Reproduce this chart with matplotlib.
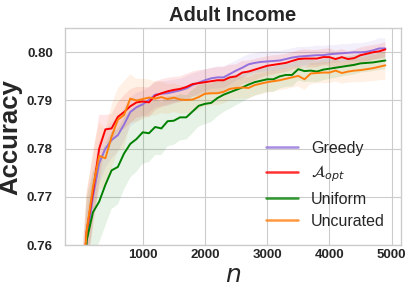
import matplotlib
matplotlib.use("Agg")
import matplotlib.pyplot as plt
import numpy as np

# training set sizes
n = list(range(0, 5000, 100))

acc_greedy = [
    0.742, 0.761, 0.7700, 0.7770, 0.7800, 0.7818, 0.7828, 0.7850, 0.7876, 0.7886,
    0.7892, 0.7901, 0.7912, 0.7914, 0.7915, 0.7918, 0.7921, 0.7925, 0.7932, 0.7937,
    0.7942, 0.7946, 0.7948, 0.7948, 0.7955, 0.7962, 0.7968, 0.7975, 0.7978, 0.7980,
    0.7981, 0.7982, 0.7983, 0.7986, 0.7989, 0.7991, 0.7992, 0.7993, 0.7994, 0.7994,
    0.7996, 0.7997, 0.7998, 0.7999, 0.8000, 0.8000, 0.8001, 0.8004, 0.8008, 0.8008,
]
acc_aopt = [
    0.745, 0.763, 0.7710, 0.7800, 0.7840, 0.7842, 0.7866, 0.7876, 0.7888, 0.7896,
    0.7898, 0.7896, 0.7910, 0.7915, 0.7919, 0.7922, 0.7924, 0.7928, 0.7934, 0.7936,
    0.7938, 0.7940, 0.7942, 0.7942, 0.7948, 0.7950, 0.7958, 0.7960, 0.7964, 0.7968,
    0.7972, 0.7974, 0.7976, 0.7978, 0.7982, 0.7986, 0.7987, 0.7987, 0.7987, 0.7990,
    0.7990, 0.7986, 0.7990, 0.7986, 0.7988, 0.7994, 0.7997, 0.8000, 0.8002, 0.8006,
]
acc_uniform = [
    0.740, 0.761, 0.7668, 0.7690, 0.7725, 0.7755, 0.7762, 0.7790, 0.7810, 0.7820,
    0.7834, 0.7832, 0.7845, 0.7842, 0.7857, 0.7858, 0.7865, 0.7865, 0.7877, 0.7889,
    0.7893, 0.7895, 0.7905, 0.7912, 0.7917, 0.7922, 0.7927, 0.7933, 0.7938, 0.7941,
    0.7944, 0.7944, 0.7950, 0.7953, 0.7953, 0.7965, 0.7961, 0.7962, 0.7960, 0.7964,
    0.7966, 0.7968, 0.7970, 0.7972, 0.7974, 0.7977, 0.7978, 0.7979, 0.7981, 0.7983,
]
acc_uncurated = [
    0.745, 0.763, 0.7720, 0.7785, 0.7780, 0.7825, 0.7860, 0.7870, 0.7904, 0.7900,
    0.7903, 0.7906, 0.7904, 0.7907, 0.7903, 0.7906, 0.7902, 0.7901, 0.7902, 0.7907,
    0.7914, 0.7915, 0.7915, 0.7918, 0.7924, 0.7926, 0.7927, 0.7926, 0.7932, 0.7935,
    0.7938, 0.7940, 0.7942, 0.7945, 0.7948, 0.7951, 0.7944, 0.7956, 0.7957, 0.7958,
    0.7958, 0.7962, 0.7957, 0.7960, 0.7962, 0.7963, 0.7965, 0.7967, 0.7970, 0.7973,
]

# half widths of the shaded bands
std_greedy = [
    0.0060, 0.0060, 0.0050, 0.0045, 0.0040, 0.0038, 0.0035, 0.0033, 0.0030, 0.0030,
    0.0028, 0.0027, 0.0026, 0.0025, 0.0026, 0.0025, 0.0024, 0.0025, 0.0024, 0.0023,
    0.0023, 0.0022, 0.0023, 0.0022, 0.0022, 0.0021, 0.0022, 0.0021, 0.0020, 0.0021,
    0.0020, 0.0021, 0.0020, 0.0020, 0.0019, 0.0020, 0.0019, 0.0019, 0.0020, 0.0019,
    0.0019, 0.0018, 0.0019, 0.0018, 0.0019, 0.0019, 0.0020, 0.0020, 0.0021, 0.0021,
]
std_aopt = [
    0.0080, 0.0080, 0.0075, 0.0070, 0.0030, 0.0030, 0.0030, 0.0035, 0.0035, 0.0032,
    0.0030, 0.0031, 0.0030, 0.0029, 0.0028, 0.0027, 0.0026, 0.0027, 0.0026, 0.0027,
    0.0026, 0.0027, 0.0027, 0.0028, 0.0026, 0.0025, 0.0024, 0.0023, 0.0022, 0.0021,
    0.0020, 0.0020, 0.0019, 0.0019, 0.0018, 0.0018, 0.0019, 0.0018, 0.0018, 0.0017,
    0.0018, 0.0017, 0.0017, 0.0016, 0.0017, 0.0016, 0.0016, 0.0015, 0.0015, 0.0015,
]
std_uniform = [
    0.0090, 0.0090, 0.0085, 0.0085, 0.0085, 0.0080, 0.0078, 0.0075, 0.0070, 0.0068,
    0.0065, 0.0060, 0.0058, 0.0055, 0.0052, 0.0050, 0.0048, 0.0046, 0.0045, 0.0043,
    0.0042, 0.0040, 0.0038, 0.0036, 0.0034, 0.0032, 0.0030, 0.0029, 0.0028, 0.0027,
    0.0026, 0.0026, 0.0025, 0.0025, 0.0024, 0.0024, 0.0023, 0.0023, 0.0022, 0.0022,
    0.0021, 0.0021, 0.0020, 0.0020, 0.0020, 0.0019, 0.0019, 0.0018, 0.0018, 0.0018,
]
std_uncurated = [
    0.0080, 0.0080, 0.0075, 0.0070, 0.0060, 0.0065, 0.0065, 0.0070, 0.0050, 0.0045,
    0.0042, 0.0038, 0.0035, 0.0033, 0.0031, 0.0030, 0.0029, 0.0028, 0.0027, 0.0026,
    0.0025, 0.0025, 0.0024, 0.0024, 0.0023, 0.0023, 0.0023, 0.0022, 0.0022, 0.0022,
    0.0022, 0.0022, 0.0021, 0.0022, 0.0021, 0.0022, 0.0022, 0.0022, 0.0021, 0.0022,
    0.0022, 0.0023, 0.0022, 0.0023, 0.0024, 0.0025, 0.0026, 0.0027, 0.0028, 0.0030,
]

series = [
    ("Greedy", acc_greedy, std_greedy, "mediumpurple"),
    (r"$\mathcal{A}_{opt}$", acc_aopt, std_aopt, "red"),
    ("Uniform", acc_uniform, std_uniform, "green"),
    ("Uncurated", acc_uncurated, std_uncurated, "tab:orange"),
]

plt.style.use("seaborn-v0_8-whitegrid")
plt.rcParams["font.family"] = ["Liberation Sans", "DejaVu Sans"]

fig = plt.figure(figsize=(4.13, 2.97), dpi=100)
ax = fig.add_axes([0.158, 0.175, 0.812, 0.73])

x = np.array(n)
for label, mean, std, color in series:
    mean = np.array(mean)
    std = np.array(std)
    ax.fill_between(x, mean - std, mean + std, color=color, alpha=0.1, lw=0)
    ax.plot(x, mean, color=color, lw=1.4, label=label)

ax.set_ylim(0.76, 0.805)
ax.set_xticks([1000, 2000, 3000, 4000, 5000])
ax.set_yticks([0.76, 0.77, 0.78, 0.79, 0.80])
ax.set_yticklabels(["0.76", "0.77", "0.78", "0.79", "0.80"])

for lab in ax.get_xticklabels() + ax.get_yticklabels():
    lab.set_fontweight("bold")
    lab.set_fontsize(9.5)
ax.tick_params(axis="y", pad=9)
ax.tick_params(axis="x", pad=3)

for sp in ax.spines.values():
    sp.set_color("#cccccc")

ax.set_title("Adult Income", fontsize=14.5, fontweight="bold", pad=5)
ax.set_ylabel("Accuracy", fontsize=18.5, fontweight="bold", labelpad=3)
ax.set_xlabel("$n$", fontsize=18, labelpad=1)

leg = ax.legend(loc="lower right", fontsize=11.5, frameon=False,
                handlelength=2.0, borderaxespad=0.6, labelspacing=0.47)
for h in leg.get_lines():
    h.set_alpha(0.8)
    h.set_linewidth(1.8)

fig.savefig("out.png", dpi=100)
